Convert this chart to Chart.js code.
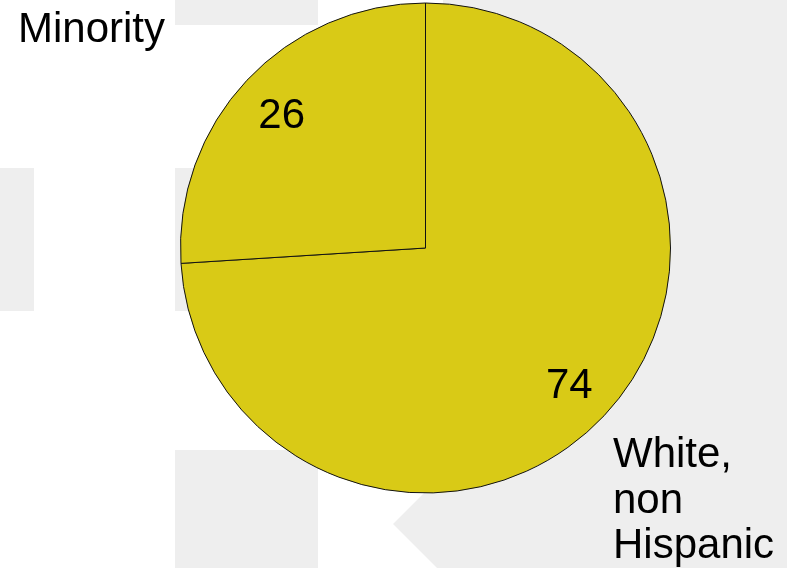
<!DOCTYPE html>
<html lang="en">
<head>
  <meta charset="UTF-8">
  <title>White, non Hispanic vs Minority</title>
  <script src="https://cdn.jsdelivr.net/npm/chart.js"></script>
  <style>
    html, body { margin: 0; padding: 0; background: #fff; overflow: hidden; }
    .wrap { position: relative; width: 787px; height: 568px; }
    /* light grey backdrop blocks */
    .bg { position: absolute; background: #eeeeee; }
    .arm { position: absolute; left: 0; top: 0; width: 787px; height: 568px; background: #eeeeee;
           clip-path: polygon(443px 0, 787px 0, 787px 568px, 437px 568px, 393px 524px, 443px 474px); }
    canvas { position: absolute; left: 0; top: 0; }
  </style>
</head>
<body>
  <div class="wrap">
    <div class="bg" style="left:175px; top:0; width:143px; height:25px;"></div>
    <div class="bg" style="left:0; top:168px; width:34px; height:143px;"></div>
    <div class="bg" style="left:175px; top:168px; width:143px; height:143px;"></div>
    <div class="bg" style="left:175px; top:450px; width:143px; height:118px;"></div>
    <div class="arm"></div>
    <canvas id="grafico" width="787" height="568"></canvas>
  </div>

  <script>
    // dados
    const categories = ['White, non Hispanic', 'Minority'];
    const categoryLines = [['White,', 'non', 'Hispanic'], ['Minority']];
    const shares = [74, 26];

    const FONT = '42px "Liberation Sans", Arial, sans-serif';

    // numbers inside the slices + category names outside
    const sliceLabels = {
      id: 'sliceLabels',
      afterDatasetsDraw(chart) {
        const ctx = chart.ctx;
        const arcs = chart.getDatasetMeta(0).data;
        ctx.save();
        ctx.font = FONT;
        ctx.fillStyle = '#000';
        ctx.textBaseline = 'alphabetic';

        ctx.textAlign = 'center';
        arcs.forEach((arc, i) => {
          const p = arc.getProps(['x', 'y', 'startAngle', 'endAngle', 'outerRadius'], true);
          const mid = (p.startAngle + p.endAngle) / 2;
          const px = p.x + Math.cos(mid) * p.outerRadius * 0.805;
          const py = p.y + Math.sin(mid) * p.outerRadius * 0.805;
          ctx.fillText(String(shares[i]), px, py + 15);
        });

        ctx.textAlign = 'left';
        // White, non Hispanic (bottom right)
        categoryLines[0].forEach((line, k) => ctx.fillText(line, 613, 467 + k * 45.5));
        // Minority (top left)
        ctx.fillText(categoryLines[1][0], 18, 42);
        ctx.restore();
      }
    };

    new Chart(document.getElementById('grafico'), {
      type: 'pie',
      data: {
        labels: categories,
        datasets: [{
          data: shares,
          backgroundColor: '#d9ca16',
          borderColor: '#111',
          borderWidth: 1
        }]
      },
      options: {
        responsive: false,
        animation: false,
        radius: 245,
        layout: { padding: { left: 180, right: 116, top: 0, bottom: 72 } },
        plugins: { legend: { display: false }, tooltip: { enabled: false } }
      },
      plugins: [sliceLabels]
    });
  </script>
</body>
</html>
